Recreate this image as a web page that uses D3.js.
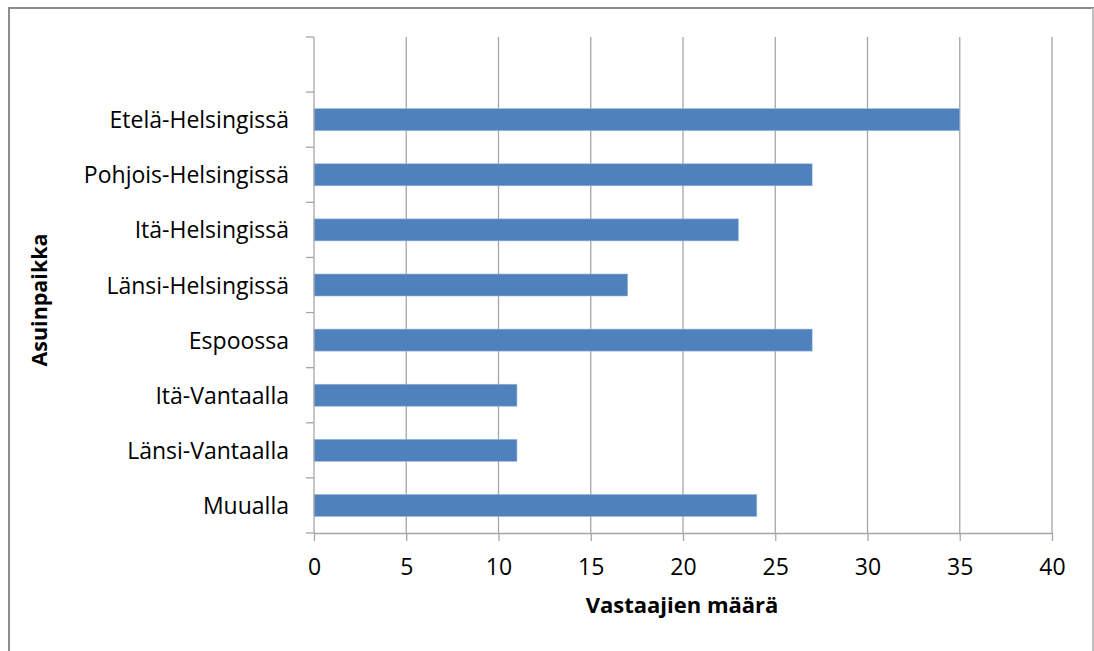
<!DOCTYPE html>
<html><head><meta charset="utf-8">
<script src="https://cdn.jsdelivr.net/npm/d3@7"></script>
<style>body{margin:0;background:#fff}svg{display:block}text{font-family:"Open Sans",Lato,sans-serif;fill:#000}</style>
</head><body>
<svg id="c" width="1094" height="651"></svg>
<script>
const categories = ["", "Etelä-Helsingissä", "Pohjois-Helsingissä", "Itä-Helsingissä", "Länsi-Helsingissä", "Espoossa", "Itä-Vantaalla", "Länsi-Vantaalla", "Muualla"];
const values = [null, 35, 27, 23, 17, 27, 11, 11, 24];
const xTicks = [0, 5, 10, 15, 20, 25, 30, 35, 40];
const xTitle = "Vastaajien määrä";
const yTitle = "Asuinpaikka";

(function () {
const svg = d3.select("#c");
const LF = "'Open Sans'";
// frame
svg.append("rect").attr("x", 9).attr("y", 8).attr("width", 1084).attr("height", 660)
  .attr("fill", "#fff").attr("stroke", "#8c8c8c").attr("stroke-width", 2);
svg.append("line").attr("x1", 1093).attr("x2", 1093).attr("y1", 8).attr("y2", 651).attr("stroke", "#d0d0d0").attr("stroke-width", 1.5);

const pL = 314, pR = 1052, pT = 37, pB = 533;
const x = d3.scaleLinear().domain([0, 40]).range([pL, pR]);
const yb = d3.scaleBand().domain(categories.map((d, i) => i)).range([pT, pB]);

// gridlines
svg.append("g").selectAll("line").data(xTicks.filter(d => d > 0)).join("line")
  .attr("x1", d => x(d)).attr("x2", d => x(d)).attr("y1", pT).attr("y2", pB)
  .attr("stroke", "#a6a6a6").attr("stroke-width", 1.3);

// bars
svg.append("g").selectAll("rect").data(values.map((v, i) => ({v, i})).filter(d => d.v != null)).join("rect")
  .attr("x", x(0)).attr("y", d => yb(d.i) + (yb.bandwidth() - 22) / 2)
  .attr("width", d => x(d.v) - x(0)).attr("height", 22)
  .attr("fill", "#4f81bd").attr("stroke", "#9bb7db").attr("stroke-width", 0.6);

// x axis
const xa = svg.append("g").attr("transform", `translate(0,${pB})`)
  .call(d3.axisBottom(x).tickValues(xTicks).tickSize(8).tickPadding(18).tickSizeOuter(0));
xa.select(".domain").attr("stroke", "#a6a6a6").attr("stroke-width", 1.3);
xa.selectAll(".tick line").attr("stroke", "#a6a6a6").attr("stroke-width", 1.3);
xa.selectAll("text").attr("font-size", 23).attr("fill", "#000").attr("dy", "0.71em").style("font-family", LF);

// y axis
const ya = svg.append("g").attr("transform", `translate(${pL},0)`);
ya.append("line").attr("x1", 0).attr("x2", 0).attr("y1", pT).attr("y2", pB).attr("stroke", "#a6a6a6").attr("stroke-width", 1.3);
const bounds = categories.map((d, i) => yb(i)).concat([pB]);
ya.selectAll("line.t").data(bounds).join("line").attr("class", "t")
  .attr("x1", -8).attr("x2", 0).attr("y1", d => d).attr("y2", d => d)
  .attr("stroke", "#a6a6a6").attr("stroke-width", 1.3);
ya.selectAll("text").data(categories.map((c, i) => ({c, i}))).join("text")
  .attr("x", -25).attr("y", d => yb(d.i) + yb.bandwidth() / 2).attr("dy", "0.37em")
  .attr("text-anchor", "end").attr("font-size", 23).text(d => d.c);

// titles
svg.append("text").attr("x", 682).attr("y", 613).attr("text-anchor", "middle")
  .attr("font-size", 22).attr("font-weight", "bold").text(xTitle);
svg.append("text").attr("transform", "translate(47,300) rotate(-90)").attr("text-anchor", "middle")
  .attr("font-size", 21.5).attr("font-weight", "bold").text(yTitle);
})();
</script>
</body></html>
